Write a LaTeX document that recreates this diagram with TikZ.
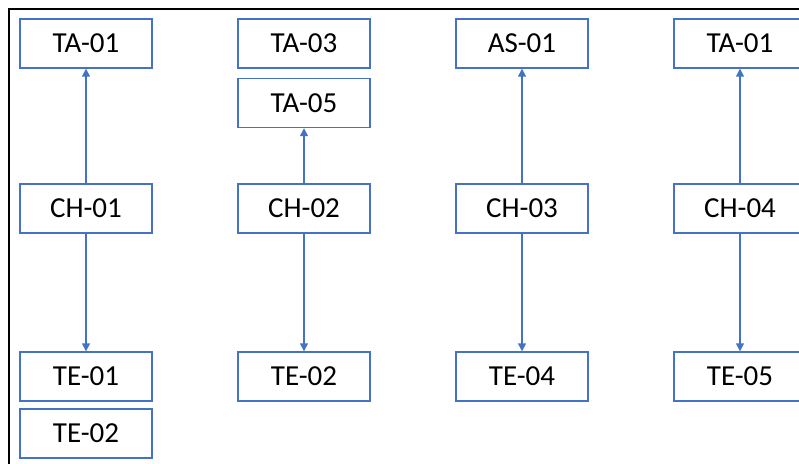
\documentclass[tikz,border=0pt]{standalone}
\usepackage{fontspec}
\setmainfont{Carlito}
\usetikzlibrary{arrows.meta}
\definecolor{officeblue}{HTML}{4472C4}
\tikzset{
  item/.style={draw=officeblue, line width=1.4pt, fill=white,
    minimum width=132pt, minimum height=49pt, inner sep=0pt,
    font=\fontsize{29}{32}\selectfont, text=black},
  link/.style={draw=officeblue, line width=1.4pt,
    -{Triangle[length=8pt,width=8pt]}},
}
\begin{document}
\begin{tikzpicture}[x=1pt,y=-1pt]
  \useasboundingbox (0,0) rectangle (799,463);
  \clip (0,0) rectangle (799,463);
  % frame
  \draw[line width=2pt, black] (8.5,470) -- (8.5,9) -- (820,9);

  % column 1
  \node[item] (ta1)  at (86,43.5)  {TA-01};
  \node[item] (ch1)  at (86,208.5) {CH-01};
  \node[item] (te1)  at (86,376.5) {TE-01};
  \node[item] (te2a) at (86,433.5) {TE-02};
  \draw[link] (ch1) -- (ta1);
  \draw[link] (ch1) -- (te1);

  % column 2
  \node[item] (ta3)  at (304,43.5)  {TA-03};
  \node[item] (ta5)  at (304,103)   {TA-05};
  \node[item] (ch2)  at (304,208.5) {CH-02};
  \node[item] (te2b) at (304,376.5) {TE-02};
  \draw[link] (ch2) -- (ta5);
  \draw[link] (ch2) -- (te2b);

  % column 3
  \node[item] (as1)  at (522,43.5)  {AS-01};
  \node[item] (ch3)  at (522,208.5) {CH-03};
  \node[item] (te4)  at (522,376.5) {TE-04};
  \draw[link] (ch3) -- (as1);
  \draw[link] (ch3) -- (te4);

  % column 4
  \node[item] (ta1b) at (740,43.5)  {TA-01};
  \node[item] (ch4)  at (740,208.5) {CH-04};
  \node[item] (te5)  at (740,376.5) {TE-05};
  \draw[link] (ch4) -- (ta1b);
  \draw[link] (ch4) -- (te5);
\end{tikzpicture}
\end{document}
